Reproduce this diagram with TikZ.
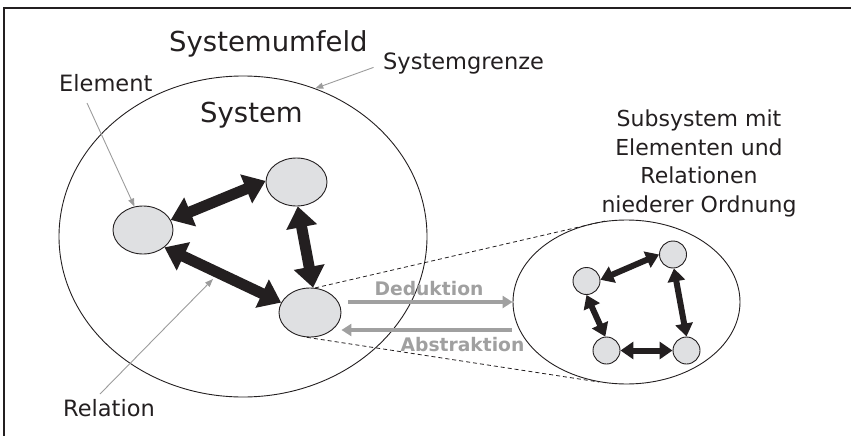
\documentclass[tikz,border=0pt]{standalone}
\usepackage{fontspec}
\setmainfont{DejaVu Sans}
\usetikzlibrary{arrows.meta,shapes.geometric}

\definecolor{ink}{HTML}{231F20}
\definecolor{elemfill}{HTML}{DFE0E2}
\definecolor{pointgray}{HTML}{9C9C9C}
\definecolor{flowgray}{HTML}{A0A0A0}

\tikzset{
  element/.style={ellipse, draw=ink, line width=0.9pt, fill=elemfill, inner sep=0pt},
  subdot/.style={circle, draw=ink, line width=0.9pt, fill=elemfill, minimum size=27pt, inner sep=0pt},
  bigrel/.style={draw=ink, line width=11pt,
    {Triangle[length=21pt,width=30pt]}-{Triangle[length=21pt,width=30pt]}},
  smallrel/.style={draw=ink, line width=6pt,
    {Triangle[length=13pt,width=17pt]}-{Triangle[length=13pt,width=17pt]}},
  pointer/.style={draw=pointgray, line width=0.9pt, -{Triangle[length=8pt,width=6pt]}},
  flow/.style={draw=flowgray, line width=4pt, -{Triangle[length=10pt,width=12pt]}},
  zoomline/.style={draw=ink, line width=0.8pt, dash pattern=on 4pt off 3pt},
  biglabel/.style={font=\fontsize{27.5}{33}\selectfont, text=ink, inner sep=0pt, anchor=base west},
  label/.style={font=\fontsize{22.5}{27}\selectfont, text=ink, inner sep=0pt, anchor=base west},
  flowlabel/.style={font=\fontsize{18.7}{22}\selectfont\bfseries, text=flowgray, inner sep=0pt, anchor=base},
}

\begin{document}
\begin{tikzpicture}[x=1pt, y=-1pt]
\useasboundingbox (0,0) rectangle (851,436);

% frame edges
\draw[ink, line width=1.5pt] (4,436) -- (4,8) -- (851,8);

% system and subsystem boundaries
\node[ellipse, draw=ink, line width=0.9pt, minimum width=368pt, minimum height=321pt, inner sep=0pt] (sys) at (243,236.5) {};
\node[ellipse, draw=ink, line width=0.9pt, minimum width=227pt, minimum height=164pt, inner sep=0pt] (sub) at (626.5,302) {};

% elements of the system
\node[element, minimum width=60pt, minimum height=48pt] (e1) at (143,230) {};
\node[element, minimum width=61pt, minimum height=48pt] (e2) at (296.5,182) {};
\node[element, minimum width=62pt, minimum height=49pt] (e3) at (310,312.5) {};

% zoom lines from the element to its subsystem
\draw[zoomline] (e3.78) -- (sub.105);
\draw[zoomline] (e3.-97) -- (sub.-109);

% relations between the elements
\draw[bigrel] (e1.20) -- (e2.178);
\draw[bigrel] (e2.-87) -- (e3.83);
\draw[bigrel] (e1.-39) -- (e3.161);

% elements and relations of lower order
\node[subdot] (s1) at (586.5,281) {};
\node[subdot] (s2) at (673,254.5) {};
\node[subdot] (s3) at (606.5,350.5) {};
\node[subdot] (s4) at (686.5,350.5) {};
\draw[smallrel] (s1.5) -- (s2.180);
\draw[smallrel] (s2.-86) -- (s4.90);
\draw[smallrel] (s1.-90) -- (s3.95);
\draw[smallrel] (s3.0) -- (s4.180);

% deduction and abstraction
\draw[flow] ([xshift=7pt,yshift=10.5pt]e3.east) -- (sub.west);
\draw[flow] ([xshift=-1pt,yshift=-28pt]sub.west) -- ([yshift=-17.5pt]e3.east);
\node[flowlabel] (ded) at (429,295) {Deduktion};
\node[flowlabel] (abs) at (462.5,351) {Abstraktion};

% texts
\node[biglabel] (umf) at (169,52) {Systemumfeld};
\node[biglabel] (systxt) at (200,122) {System};
\node[label] (sgr) at (383,70) {Systemgrenze};
\node[label] (elem) at (59,92) {Element};
\node[label] (rel) at (63,416) {Relation};
\node[font=\fontsize{22}{28.4}\selectfont, text=ink, inner sep=0pt, align=center, anchor=base] (subtxt) at (699,212)
  {Subsystem mit\\Elementen und\\Relationen\\niederer Ordnung};

% pointers to the labelled parts
\coordinate (elemTail) at (87,103);
\coordinate (relTail) at (100,394);
\coordinate (relTip) at (213,279);
\draw[pointer, shorten <=10pt] (sgr.west) -- (sys.64);
\draw[pointer] (elemTail) -- (e1.110);
\draw[pointer] (relTail) -- (relTip);
\end{tikzpicture}
\end{document}
